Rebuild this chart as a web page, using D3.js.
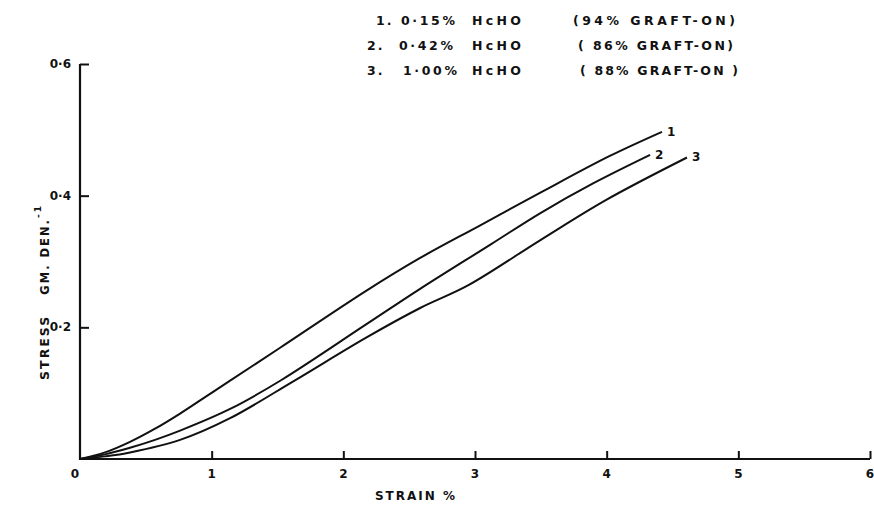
<!DOCTYPE html>
<html>
<head>
<meta charset="utf-8">
<script src="https://cdn.jsdelivr.net/npm/d3@7"></script>
<style>
  html, body { margin: 0; padding: 0; background: #fff; }
  svg { display: block; }
  text { font-family: "DejaVu Sans", sans-serif; font-weight: bold; fill: #111; }
</style>
</head>
<body>
<svg id="chart" width="874" height="514"></svg>
<script>
// Stress–strain curves for grafted fibres at three formaldehyde levels
const strain1 = [0, 0.19, 0.38, 0.57, 0.76, 0.95, 1.14, 1.52, 2.17, 2.58, 3.04, 3.50, 4.02, 4.42];
const stress1 = [0, 0.010, 0.026, 0.046, 0.069, 0.094, 0.119, 0.169, 0.255, 0.305, 0.355, 0.405, 0.460, 0.497];

const strain2 = [0, 0.19, 0.38, 0.57, 0.76, 1.14, 1.53, 2.17, 2.58, 3.12, 3.50, 3.90, 4.33];
const stress2 = [0, 0.007, 0.017, 0.029, 0.043, 0.076, 0.120, 0.204, 0.258, 0.326, 0.374, 0.419, 0.462];

const strain3 = [0, 0.19, 0.38, 0.76, 1.14, 1.62, 2.17, 2.58, 2.95, 3.50, 4.00, 4.61];
const stress3 = [0, 0.004, 0.010, 0.029, 0.062, 0.118, 0.184, 0.229, 0.264, 0.333, 0.394, 0.458];

const curveLabels = ["1", "2", "3"];
const legendNumbers = ["1.", "2.", "3."];
const legendConc = ["0·15%", "0·42%", "1·00%"];
const legendAgent = ["HcHO", "HcHO", "HcHO"];
const legendGraft = ["(94% GRAFT-ON)", "( 86% GRAFT-ON)", "( 88% GRAFT-ON )"];

const xTicks = [0, 1, 2, 3, 4, 5, 6];
const yTicks = [0.2, 0.4, 0.6];

const svg = d3.select("#chart");
const x = d3.scaleLinear().domain([0, 6]).range([80, 870]);
const y = d3.scaleLinear().domain([0, 0.6]).range([459, 64]);

const series = [
  { label: curveLabels[0], pts: strain1.map((s, i) => [s, stress1[i]]) },
  { label: curveLabels[1], pts: strain2.map((s, i) => [s, stress2[i]]) },
  { label: curveLabels[2], pts: strain3.map((s, i) => [s, stress3[i]]) }
];

// axes
const xAxis = d3.axisBottom(x).tickValues(xTicks.slice(1)).tickSize(-8).tickFormat("");
const gx = svg.append("g").attr("transform", `translate(0,${y(0)})`).call(xAxis);
const yAxis = d3.axisLeft(y).tickValues(yTicks).tickSize(-9).tickFormat("");
const gy = svg.append("g").attr("transform", `translate(${x(0)},0)`).call(yAxis);
[gx, gy].forEach(g => {
  g.select(".domain").remove();
  g.selectAll(".tick line").attr("stroke", "#111").attr("stroke-width", 2);
});
svg.append("line")
  .attr("x1", x(0)).attr("x2", x(6)).attr("y1", y(0)).attr("y2", y(0))
  .attr("stroke", "#111").attr("stroke-width", 2.2);
svg.append("line")
  .attr("x1", x(0)).attr("x2", x(0)).attr("y1", y(0) + 1).attr("y2", y(0.6))
  .attr("stroke", "#111").attr("stroke-width", 2.2);

// tick labels
svg.append("g").selectAll("text").data(xTicks).join("text")
  .attr("x", d => x(d) + (d === 0 ? -5 : 0))
  .attr("y", y(0) + 19)
  .attr("text-anchor", "middle")
  .attr("font-size", 12)
  .text(d => d);
svg.append("g").selectAll("text").data(yTicks).join("text")
  .attr("x", x(0) - 9)
  .attr("y", d => y(d) + 4)
  .attr("text-anchor", "end")
  .attr("font-size", 12)
  .text(d => d3.format(".1f")(d).replace(".", "·"));

// axis titles
svg.append("text")
  .attr("x", 416).attr("y", 500)
  .attr("text-anchor", "middle")
  .attr("font-size", 12).attr("letter-spacing", 2)
  .text("STRAIN %");
const yt = svg.append("text")
  .attr("transform", `translate(49,292) rotate(-90)`)
  .attr("text-anchor", "middle")
  .attr("font-size", 12.5).attr("letter-spacing", 2);
yt.append("tspan").text("STRESS");
yt.append("tspan").attr("dx", 20).attr("font-size", 11.5).text("GM. DEN.");
yt.append("tspan").attr("dy", -8).attr("font-size", 9).text("-1");

// curves
const line = d3.line()
  .x(d => x(d[0])).y(d => y(d[1]))
  .curve(d3.curveCatmullRom.alpha(0.5));
svg.append("g").selectAll("path").data(series).join("path")
  .attr("d", d => line(d.pts))
  .attr("fill", "none")
  .attr("stroke", "#111")
  .attr("stroke-width", 2);

// curve end labels
svg.append("g").selectAll("text").data(series).join("text")
  .attr("x", d => x(d.pts[d.pts.length - 1][0]) + 5)
  .attr("y", d => y(d.pts[d.pts.length - 1][1]) + 4)
  .attr("font-size", 12)
  .text(d => d.label);

// legend block
const rowY = [20, 45, 70];
const numX = [376, 367, 367];
const concX = [401, 399, 403];
const graftX = [573, 578, 580];
const graftW = [162, 155, 158];
const leg = svg.append("g").attr("font-size", 12.5);
legendNumbers.forEach((n, i) => {
  leg.append("text").attr("x", numX[i]).attr("y", rowY[i] + 5).attr("letter-spacing", 2).text(n);
  leg.append("text").attr("x", concX[i]).attr("y", rowY[i] + 5)
    .attr("textLength", 54).attr("lengthAdjust", "spacing").text(legendConc[i]);
  leg.append("text").attr("x", 472).attr("y", rowY[i] + 5)
    .attr("textLength", 49).attr("lengthAdjust", "spacing").text(legendAgent[i]);
  leg.append("text").attr("x", graftX[i]).attr("y", rowY[i] + 5)
    .attr("textLength", graftW[i]).attr("lengthAdjust", "spacing").text(legendGraft[i]);
});
</script>
</body>
</html>
